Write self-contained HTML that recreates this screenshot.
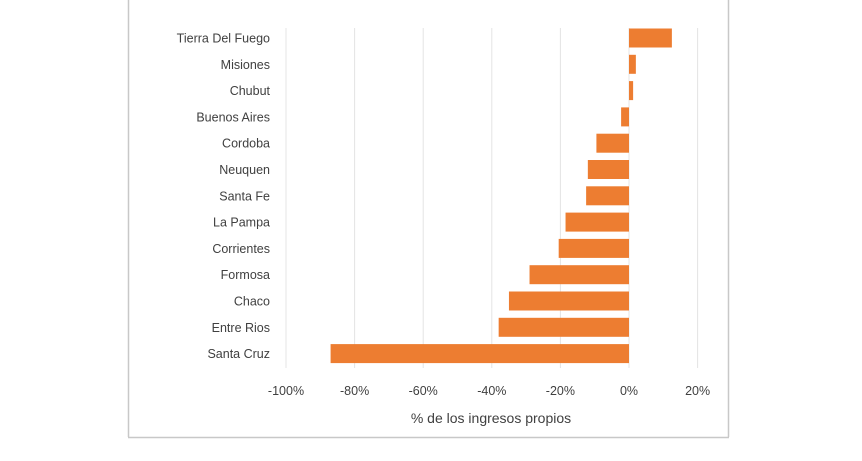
<!DOCTYPE html>
<html><head><meta charset="utf-8"><style>
body{margin:0;background:#fff;width:862px;height:456px;overflow:hidden;font-family:"Liberation Sans",sans-serif}
</style></head><body>
<svg id="chart" width="862" height="456" xmlns="http://www.w3.org/2000/svg">
<line x1="128.5" y1="0" x2="128.5" y2="437" stroke="#c8c8c8" stroke-width="1.5"/>
<line x1="728.5" y1="0" x2="728.5" y2="437" stroke="#c8c8c8" stroke-width="1.5"/>
<line x1="128" y1="437.5" x2="729" y2="437.5" stroke="#c8c8c8" stroke-width="1.5"/>
<g id="grid"></g><g id="bars"></g><g id="ylabels"></g><g id="xlabels"></g>
<text x="491" y="423" text-anchor="middle" font-size="14" fill="#404040">% de los ingresos propios</text>
</svg>
<script>
const categories=["Tierra Del Fuego","Misiones","Chubut","Buenos Aires","Cordoba","Neuquen","Santa Fe","La Pampa","Corrientes","Formosa","Chaco","Entre Rios","Santa Cruz"];
const values=[12.5,2,1.2,-2.3,-9.5,-12,-12.5,-18.5,-20.5,-29,-35,-38,-87];
const ticks=[-100,-80,-60,-40,-20,0,20];
const tickLabels=["-100%","-80%","-60%","-40%","-20%","0%","20%"];
const NS="http://www.w3.org/2000/svg";
const x=v=>629+v*3.43;
const y=i=>38+i*26.3;
function mk(t,a,p){const e=document.createElementNS(NS,t);for(const k in a)e.setAttribute(k,a[k]);p.appendChild(e);return e;}
const g=document.getElementById('grid'),b=document.getElementById('bars'),yl=document.getElementById('ylabels'),xl=document.getElementById('xlabels');
ticks.forEach((t,i)=>{
 const l=mk('line',{x1:x(t),x2:x(t),y1:28,y2:368,stroke:'#e4e4e4','stroke-width':1},g);
 
 
 const tx=mk('text',{x:x(t),y:395,'text-anchor':'middle','font-size':12.5,fill:'#404040'},xl);
 tx.textContent=tickLabels[i];
 
 
});
categories.forEach((c,i)=>{
 const v=values[i];
 const r=mk('rect',{x:Math.min(x(0),x(v)),y:y(i)-9.5,width:Math.abs(x(v)-x(0)),height:19,fill:'#ed7d31'},b);
 
 
 const tx=mk('text',{x:270,y:y(i)+4.5,'text-anchor':'end','font-size':12.5,fill:'#404040'},yl);
 tx.textContent=c;
 
 
});
</script>
</body></html>
